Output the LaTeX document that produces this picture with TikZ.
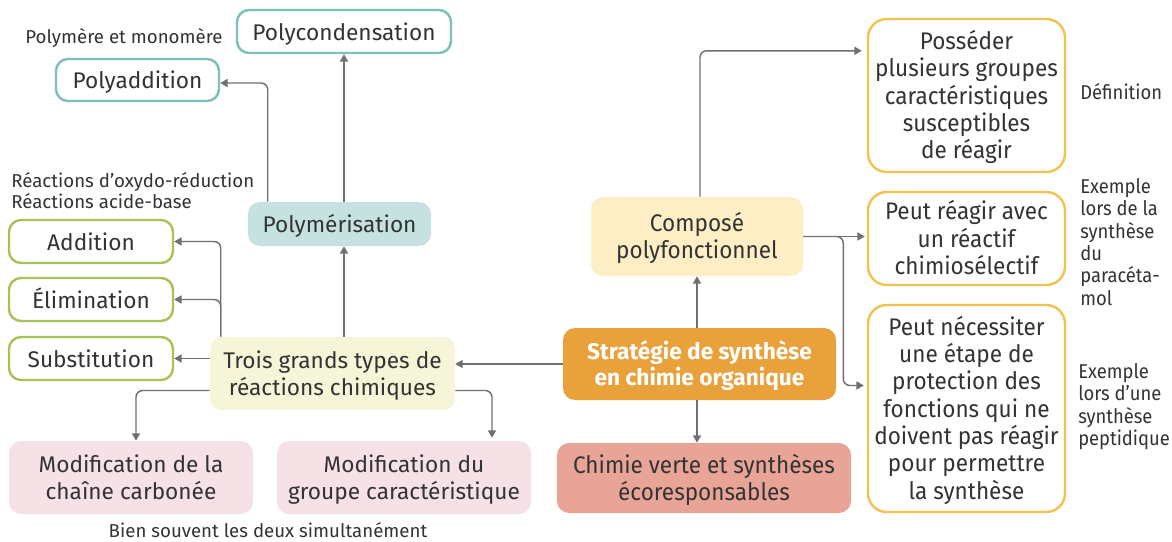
\documentclass[tikz,border=0pt]{standalone}
\usepackage{fontspec}
\setmainfont{Fira Sans}
\newfontfamily\condf[FakeStretch=0.94]{Fira Sans}
\newfontfamily\condn[FakeStretch=0.92]{Fira Sans}
\usetikzlibrary{arrows.meta,calc}
\newcommand\bx[1]{\raisebox{-2.4pt}[\height][\depth]{\begin{tabular}{@{}c@{}}#1\end{tabular}}}
\definecolor{txt}{HTML}{333333}
\definecolor{arrc}{HTML}{707070}
\definecolor{tealb}{HTML}{7CC1B9}
\definecolor{tealf}{HTML}{C6E2E0}
\definecolor{greenb}{HTML}{A8C256}
\definecolor{yelf}{HTML}{F6F5D8}
\definecolor{pinkf}{HTML}{F6E1E6}
\definecolor{orangef}{HTML}{E9A23B}
\definecolor{salmonf}{HTML}{E8A597}
\definecolor{compf}{HTML}{FDEEC6}
\definecolor{yelb}{HTML}{F2C14E}
\tikzset{
  box/.style={rounded corners=9pt, align=center, inner sep=0pt, text=txt,
    font=\fontsize{17}{20.5}\selectfont},
  tealbox/.style={box, draw=tealb, line width=1.8pt, fill=white},
  greenbox/.style={box, draw=greenb, line width=1.8pt, fill=white},
  yelbox/.style={box, draw=yelb, line width=1.8pt, fill=white,
    font=\condf\fontsize{18}{20.5}\selectfont, rounded corners=14pt},
  fillbox/.style={box, fill=#1},
  arr/.style={draw=arrc, line width=1.1pt, rounded corners=5pt,
    -{Triangle[length=5.5pt,width=6pt]}},
  note/.style={text=txt, inner sep=0pt, font=\fontsize{14}{16}\selectfont},
  cnote/.style={text=txt, inner sep=0pt, align=left,
    font=\condn\fontsize{15}{16.8}\selectfont},
}
\begin{document}
\begin{tikzpicture}[x=0.75pt,y=-0.75pt]
\useasboundingbox[fill=white] (0,0) rectangle (1172,542);

% left part
\node[tealbox, minimum width=160.5pt, minimum height=32.25pt] (pcond) at (344,31.5) {\bx{Polycondensation}};
\node[tealbox, minimum width=122.25pt, minimum height=31.5pt] (padd) at (137.5,80) {\bx{Polyaddition}};
\node[fillbox=tealf, minimum width=137.25pt, minimum height=33pt] (pmer) at (339.5,224) {\bx{Polymérisation}};
\node[greenbox, minimum width=123pt, minimum height=32.25pt] (add) at (91,241.5) {\bx{Addition}};
\node[greenbox, minimum width=123pt, minimum height=32.25pt] (elim) at (91,299.5) {\bx{Élimination}};
\node[greenbox, minimum width=123pt, minimum height=32.25pt] (subst) at (91,358.5) {\bx{Substitution}};
\node[fillbox=yelf, minimum width=183.75pt, minimum height=54.75pt] (trois) at (332.5,373.5) {\bx{Trois grands types de\\réactions chimiques}};
\node[fillbox=pinkf, minimum width=183pt, minimum height=54.75pt] (modc) at (131,477.5) {\bx{Modification de la\\chaîne carbonée}};
\node[fillbox=pinkf, minimum width=190.5pt, minimum height=54.75pt] (modg) at (404,477.5) {\bx{Modification du\\groupe caractéristique}};

% right part
\node[fillbox=orangef, minimum width=204.75pt, minimum height=54pt, text=white,
  font=\bfseries\fontsize{17}{20}\selectfont] (strat) at (699.5,364) {\bx{Stratégie de synthèse\\en chimie organique}};
\node[fillbox=salmonf, minimum width=220.5pt, minimum height=52.5pt,
  font=\condf\fontsize{18}{20}\selectfont] (chim) at (704,478) {\bx{Chimie verte et synthèses\\écoresponsables}};
\node[fillbox=compf, minimum width=159pt, minimum height=59.25pt,
  font=\condf\fontsize{18}{20.5}\selectfont] (comp) at (697,236.5) {\bx{Composé\\polyfonctionnel}};
\node[yelbox, minimum width=147.75pt, minimum height=114.75pt] (poss) at (966.5,95.5) {\bx{Posséder\\plusieurs groupes\\caractéristiques\\susceptibles\\de réagir}};
\node[yelbox, minimum width=147.75pt, minimum height=69.75pt] (peutr) at (966.5,238.5) {\bx{Peut réagir avec\\un réactif\\chimiosélectif}};
\node[yelbox, minimum width=147.75pt, minimum height=155.25pt] (peutn) at (966.5,408.5) {\bx{Peut nécessiter\\une étape de\\protection des\\fonctions qui ne\\doivent pas réagir\\pour permettre\\la synthèse}};

% notes
\node[note] (n1) at (124,38.5) {Polymère et monomère};
\node[note, anchor=west, align=left] (n2) at (11,190.5) {Réactions d’oxydo-réduction\\Réactions acide-base};
\node[note] (n3) at (268,530.5) {Bien souvent les deux simultanément};
\node[cnote, anchor=west] (n4) at (1080,92) {Définition};
\node[cnote, anchor=west] (n5) at (1080,242) {Exemple\\lors de la\\synthèse\\du\\paracéta-\\mol};
\node[cnote, anchor=west] (n6) at (1078,406.5) {Exemple\\lors d’une\\synthèse\\peptidique};

% connectors
\coordinate (padj) at ($(pmer.north west)+(20,0)$);
\draw[arr] (pmer.north -| pcond) -- (pcond.south);
\draw[arr] (padj) |- ($(padd.east)+(0,3)$);
\draw[arr] (trois.north -| pcond) -- (pmer.south -| pcond);
\coordinate (tadj) at ($(trois.north west)+(11,0)$);
\draw[arr] (tadj) |- (add.east);
\draw[arr] (tadj) |- (elim.east);
\draw[arr] (trois.west |- subst.east) -- ($(subst.east)+(0,0)$);
\draw[arr] ($(trois.west)+(0,17)$) -| ($(modc.north)+(5,0)$);
\draw[arr] ($(trois.east)+(0,17)$) -| ($(modg.north)+(88,-3)$);
\draw[arr] (strat.west) -- (strat.west -| trois.east);
\draw[arr] (strat.north -| comp) -- (comp.south);
\draw[arr] (strat.south -| comp) -- (chim.north -| comp);
\coordinate (cadj) at ($(comp.north)+(3,0)$);
\draw[arr] (cadj) |- ($(poss.north west)+(-5,33)$);
\draw[arr] (comp.east) -- ($(comp.east -| peutr.west)+(-2,0)$);
\draw[arr] (comp.east) -- ++(40,0) |- ($(peutn.west)+(-3,-23)$);
\end{tikzpicture}
\end{document}
